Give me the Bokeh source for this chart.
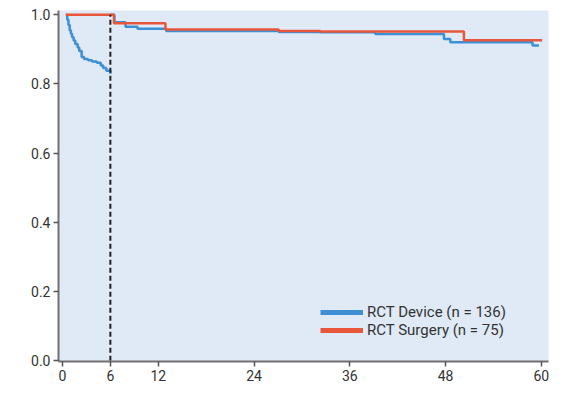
from bokeh.plotting import figure
from bokeh.models import Range1d, FixedTicker, Legend, LegendItem
from bokeh.embed import file_html
from bokeh.resources import INLINE

# Data (months, event-free survival)
device_pre_t = [0.5, 0.6, 0.75, 0.9, 1.05, 1.2, 1.4, 1.6, 1.9, 2.1, 2.4, 2.7, 3.2, 3.7, 4.3, 4.8, 5.1, 5.5, 6.0]
device_pre_s = [1.0, 0.985, 0.97, 0.955, 0.945, 0.935, 0.925, 0.915, 0.905, 0.895, 0.878, 0.872, 0.868, 0.865, 0.861, 0.853, 0.846, 0.838, 0.829]

device_post_t = [6.0, 6.5, 7.9, 9.4, 13.0, 27.1, 32.3, 39.2, 47.8, 48.6, 58.9, 59.7]
device_post_s = [1.0, 0.978, 0.965, 0.959, 0.953, 0.950, 0.949, 0.944, 0.930, 0.920, 0.911, 0.911]

surgery_t = [0.4, 6.45, 12.9, 27.1, 32.3, 50.3, 60.1]
surgery_s = [1.0, 0.975, 0.957, 0.953, 0.951, 0.926, 0.926]

x_ticks = [0, 6, 12, 24, 36, 48, 60]
y_ticks = [0.0, 0.2, 0.4, 0.6, 0.8, 1.0]
landmark = 6
labels = ["RCT Device (n = 136)", "RCT Surgery (n = 75)"]

BLUE = "#3d8fd6"
RED = "#e9573a"
FONT = "Roboto"

p = figure(width=563, height=397, output_backend="svg", toolbar_location=None,
           x_range=Range1d(-0.5, 60.9), y_range=Range1d(-0.002, 1.012),
           min_border_left=58, min_border_right=15, min_border_top=10, min_border_bottom=36)
p.background_fill_color = "#dfeaf6"
p.border_fill_color = "white"
p.outline_line_color = None
p.xgrid.visible = False
p.ygrid.visible = False

for ax in (p.xaxis[0], p.yaxis[0]):
    ax.axis_line_color = "#707070"
    ax.axis_line_width = 2
    ax.major_tick_line_color = "#555555"
    ax.major_tick_line_width = 1.5
    ax.major_tick_out = 5
    ax.major_tick_in = 0
    ax.minor_tick_line_color = None
    ax.major_label_text_font = FONT
    ax.major_label_text_font_size = "14px"
    ax.major_label_text_color = "#333333"
    ax.major_label_standoff = 3

p.xaxis.ticker = FixedTicker(ticks=x_ticks)
p.yaxis.ticker = FixedTicker(ticks=y_ticks)
p.yaxis.major_label_overrides = {v: f"{v:.1f}" for v in y_ticks}

p.step(device_pre_t, device_pre_s, mode="after", line_color=BLUE, line_width=2.5)
p.step(device_post_t, device_post_s, mode="after", line_color=BLUE, line_width=2.5)
p.step(surgery_t, surgery_s, mode="after", line_color=RED, line_width=2.5)

p.segment(x0=[landmark], y0=[0.0], x1=[landmark], y1=[1.0],
          line_color="#222222", line_width=2, line_dash="5 3")

# legend-only renderers placed outside the visible range
lb = p.line([-20, -19], [-1, -1], line_color=BLUE, line_width=5)
lr = p.line([-20, -19], [-1, -1], line_color=RED, line_width=5)
legend = Legend(items=[LegendItem(label=labels[0], renderers=[lb]),
                       LegendItem(label=labels[1], renderers=[lr])],
                location=(262, 22))
legend.background_fill_alpha = 0
legend.border_line_color = None
legend.padding = 0
legend.margin = 0
legend.spacing = 0
legend.glyph_width = 43
legend.glyph_height = 18
legend.label_height = 18
legend.label_standoff = 4
legend.label_text_font = FONT
legend.label_text_font_size = "15px"
legend.label_text_color = "#333333"
p.add_layout(legend, "center")

open("out.html", "w").write(file_html(p, INLINE))
